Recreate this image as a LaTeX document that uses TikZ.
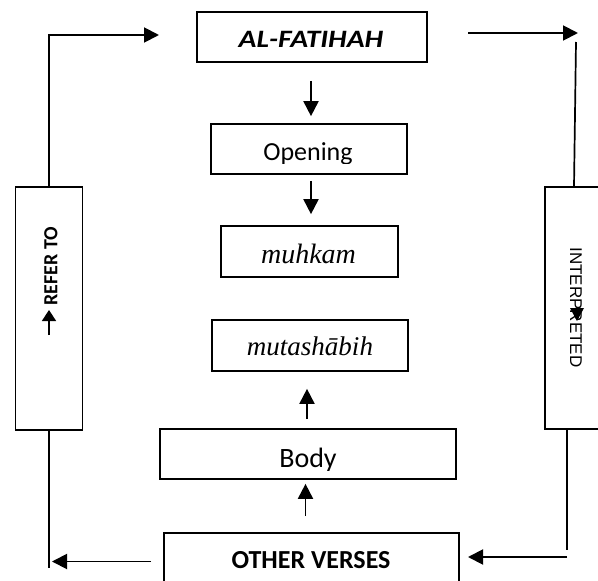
\documentclass[tikz,border=0pt]{standalone}
\usepackage{fontspec}
\setmainfont{Carlito}
\newfontfamily\serifit{Liberation Serif}
\newfontfamily\arialf{Liberation Sans}
\usetikzlibrary{arrows.meta,calc}
\begin{document}
\begin{tikzpicture}[x=1pt,y=-1pt,
  box/.style={draw, line width=1.7pt, inner sep=0pt},
  conn/.style={line width=1.9pt, -{Triangle[length=15pt,width=15pt]}},
  smallarr/.style={line width=1.6pt, -{Triangle[length=11pt,width=14pt]}},
  plainline/.style={line width=1.7pt},
  txt/.style={inner sep=0pt, anchor=base},
  bigfont/.style={font=\fontsize{26}{30}\selectfont},
]
\path[use as bounding box, clip] (0,0) rectangle (598,581);

% boxes
\node[box, minimum width=230pt, minimum height=50pt] (alf) at (312,37) {};
\node[box, minimum width=196pt, minimum height=50pt] (open) at (309,149) {};
\node[box, minimum width=177pt, minimum height=51pt] (muh) at (309.5,251.5) {};
\node[box, minimum width=196pt, minimum height=51pt] (mut) at (310,345.5) {};
\node[box, minimum width=296pt, minimum height=50pt] (body) at (308,454) {};
\node[box, minimum width=295pt, minimum height=87pt] (other) at (311.5,576.5) {};
\node[box, minimum width=67pt, minimum height=243pt] (refer) at (49,308.5) {};
\node[box, minimum width=75pt, minimum height=242pt] (interp) at (582.5,308) {};

% texts
\node[txt, xscale=1.18, font=\fontsize{25}{29}\selectfont\bfseries\itshape] (alft) at (311,47.5) {AL-FATIHAH};
\begin{scope}
  \clip (211,124) rectangle (407,163);
  \node[txt, bigfont] (opent) at (308,160) {Opening};
\end{scope}
\node[txt, font=\fontsize{28}{32}\selectfont\serifit\itshape] (muht) at (308.5,263) {muhkam};
\node[txt, font=\fontsize{27}{31}\selectfont\serifit\itshape] (mutt) at (310,355) {mutashābih};
\begin{scope}
  \clip (160,429) rectangle (456,470);
  \node[txt, font=\fontsize{28}{32}\selectfont] (bodyt) at (308,467.5) {Body};
\end{scope}
\node[txt, font=\fontsize{26}{30}\selectfont\bfseries] (othert) at (311,568) {OTHER VERSES};
\node[inner sep=0pt, rotate=90, font=\fontsize{20}{23}\selectfont\bfseries] (refert) at (51,266) {REFER TO};
\node[inner sep=0pt, rotate=-90, font=\fontsize{17}{20}\selectfont\arialf] (interpt) at (576,307.5) {INTERPRETED};

% small in-box arrows
\coordinate (ra1) at (49,335);
\coordinate (ra2) at (49,310);
\draw[smallarr] (ra1) -- (ra2);
\coordinate (ia1) at (570,308);
\coordinate (ia2) at (584,308);
\coordinate (ia3) at (577,321);
\fill (ia1) -- (ia2) -- (ia3) -- cycle;

% central connectors
\draw[conn, shorten <=18pt, shorten >=7pt] ($(alf.south)+(-1,0)$) -- ($(alf.south |- open.north)+(-1,0)$);
\draw[conn, shorten <=6pt, shorten >=11pt] ($(open.south)+(2,0)$) -- ($(open.south |- muh.north)+(2,0)$);
\draw[conn, shorten <=9pt, shorten >=17pt] ($(body.north)+(-1,0)$) -- ($(body.north |- mut.south)+(-1,0)$);
\draw[conn, shorten <=16pt, shorten >=4pt] ($(other.north)+(-6,0)$) -- ($(other.north |- body.south)+(-6,0)$);

% left loop
\coordinate (lftip) at (159,35);
\draw[conn] (refer.north) |- (lftip);
\coordinate (lbot) at (49,568);
\draw[plainline] (refer.south) -- (lbot);
\coordinate (lbs) at (151,561.5);
\coordinate (lbt) at (52,561.5);
\draw[conn] (lbs) -- (lbt);

% right loop
\coordinate (rs) at (468,33);
\coordinate (rt) at (578,33);
\draw[conn] (rs) -- (rt);
\coordinate (rv) at (576,42);
\coordinate (rvb) at (574,187);
\draw[plainline] (rv) -- (rvb);
\coordinate (rbt) at (567,429);
\coordinate (rbb) at (567,550);
\draw[plainline] (rbt) -- (rbb);
\coordinate (rhs) at (567,557);
\coordinate (rht) at (468,557);
\draw[conn] (rhs) -- (rht);
\end{tikzpicture}
\end{document}
